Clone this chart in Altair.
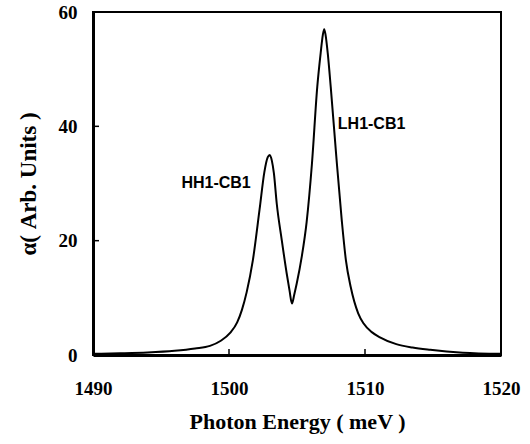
import altair as alt
import pandas as pd

# Curve values
energy = [1490.0, 1492.0, 1494.0, 1496.0, 1497.5, 1498.6, 1499.4, 1500.1, 1500.6,
          1500.95, 1501.3, 1501.75, 1502.25, 1502.6, 1502.85, 1503.0, 1503.15, 1503.3,
          1503.51, 1503.88, 1504.24, 1504.45, 1504.63, 1504.8, 1504.98, 1505.35, 1505.71,
          1506.1, 1506.49, 1506.74, 1506.9, 1507.0, 1507.1, 1507.26, 1507.48, 1507.87,
          1508.29, 1508.6, 1508.95, 1509.5, 1509.9, 1510.5, 1511.1, 1512.3, 1513.5,
          1514.8, 1517.2, 1520.0]
alpha = [0.2, 0.3, 0.45, 0.75, 1.15, 1.6, 2.5, 3.9, 5.7,
         7.9, 11.0, 16.5, 25.5, 32.0, 34.6, 35.0, 34.0, 31.8,
         26.5, 20.1, 14.3, 11.3, 9.0, 10.6, 12.5, 17.2, 23.3,
         33.5, 46.9, 52.8, 56.0, 57.0, 56.0, 52.8, 46.9, 35.3,
         23.6, 16.5, 11.9, 7.3, 5.5, 4.0, 3.1, 1.9, 1.3,
         0.9, 0.4, 0.2]

x_ticks = [1490, 1500, 1510, 1520]
y_ticks = [0, 20, 40, 60]
inner_x_ticks = [1500, 1510]
inner_y_ticks = [20, 40]

hh_label = ["HH1-CB1"]
hh_x = [1501.6]
hh_y = [30.1]
lh_label = ["LH1-CB1"]
lh_x = [1508.0]
lh_y = [40.4]

W, H = 408, 343

curve_df = pd.DataFrame({"E": energy, "a": alpha})
xt_df = pd.DataFrame({"E": inner_x_ticks})
yt_df = pd.DataFrame({"a": inner_y_ticks})
hh_df = pd.DataFrame({"t": hh_label, "E": hh_x, "a": hh_y})
lh_df = pd.DataFrame({"t": lh_label, "E": lh_x, "a": lh_y})

xscale = alt.Scale(domain=[1490, 1520], nice=False, zero=False)
yscale = alt.Scale(domain=[0, 60], nice=False)

serif = "Liberation Serif"

xaxis = alt.Axis(values=x_ticks, format="d", title="Photon Energy ( meV )", ticks=False,
                 grid=False, domain=True, domainColor="black", domainWidth=3,
                 labelFont=serif, labelFontWeight="bold", labelFontSize=19,
                 labelColor="black", labelPadding=24, labelFlush=False,
                 titleFont=serif, titleFontWeight="bold", titleFontSize=22,
                 titleColor="black", titleY=66, titleBaseline="middle")
yaxis = alt.Axis(values=y_ticks, format="d", title="α( Arb. Units )", ticks=False,
                 grid=False, domain=True, domainColor="black", domainWidth=3,
                 labelFont=serif, labelFontWeight="bold", labelFontSize=19,
                 labelColor="black", labelPadding=16, labelFlush=False,
                 titleFont=serif, titleFontWeight="bold", titleFontSize=23,
                 titleColor="black", titleAngle=270, titleX=-65, titleY=H / 2,
                 titleAlign="center", titleBaseline="middle")

line = alt.Chart(curve_df).mark_line(color="black", strokeWidth=2, interpolate="monotone").encode(
    x=alt.X("E:Q", scale=xscale, axis=xaxis),
    y=alt.Y("a:Q", scale=yscale, axis=yaxis),
)

xt = alt.Chart(xt_df).mark_rule(color="black", strokeWidth=1.5).encode(
    x=alt.X("E:Q", scale=xscale),
    y=alt.value(H),
    y2=alt.value(H - 6),
)
yt = alt.Chart(yt_df).mark_rule(color="black", strokeWidth=1.5).encode(
    y=alt.Y("a:Q", scale=yscale),
    x=alt.value(0),
    x2=alt.value(6),
)

hh = alt.Chart(hh_df).mark_text(font="Liberation Sans", fontWeight="bold", fontSize=16,
                                align="right", baseline="middle", color="black").encode(
    x=alt.X("E:Q", scale=xscale), y=alt.Y("a:Q", scale=yscale), text="t:N")
lh = alt.Chart(lh_df).mark_text(font="Liberation Sans", fontWeight="bold", fontSize=16,
                                align="left", baseline="middle", color="black").encode(
    x=alt.X("E:Q", scale=xscale), y=alt.Y("a:Q", scale=yscale), text="t:N")

chart = alt.layer(line, xt, yt, hh, lh).properties(
    width=W, height=H,
    autosize=alt.AutoSizeParams(type="none"),
    padding={"left": 93, "top": 12, "right": 29, "bottom": 89},
    background="white",
).configure_view(stroke="black", strokeWidth=2)

chart.save("out.html", embed_options={"renderer": "svg", "actions": False})
